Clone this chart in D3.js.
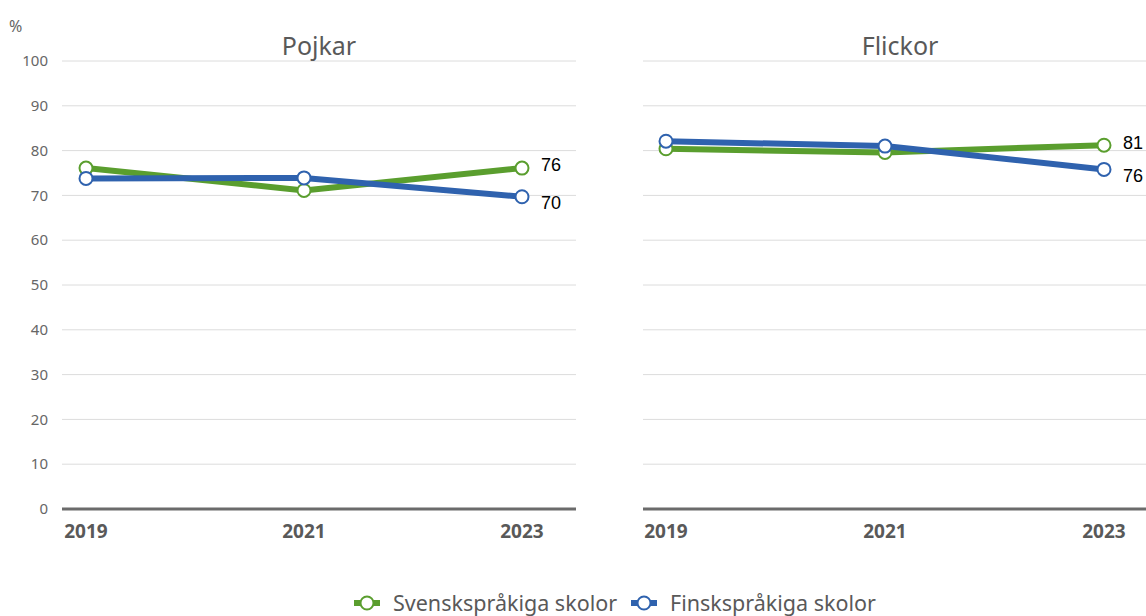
<!DOCTYPE html>
<html>
<head>
<meta charset="utf-8">
<script src="https://cdn.jsdelivr.net/npm/d3@7"></script>
<style>
  body { margin: 0; background: #fff; }
  svg { display: block; }
  .tick-label { font-family: "Noto Sans", sans-serif; fill: #666; font-size: 15px; }
  .year-label { font-family: "Noto Sans", sans-serif; fill: #595959; font-size: 19px; font-weight: bold; }
  .panel-title { font-family: "Noto Sans", sans-serif; fill: #595959; font-size: 25px; }
  .value-label { font-family: "Liberation Sans", Arial, sans-serif; fill: #000; font-size: 18px; }
  .legend-label { font-family: "Noto Sans", sans-serif; fill: #595959; font-size: 21.5px; }
</style>
</head>
<body>
<svg id="chart" width="1146" height="616"></svg>
<script>
// ========== DATA ==========
const years = ["2019", "2021", "2023"];
const panels = ["Pojkar", "Flickor"];
const seriesNames = ["Svenskspråkiga skolor", "Finskspråkiga skolor"];
const seriesColors = ["#5a9e2e", "#2f62ae"];

// values per panel, per series
const pojkarSvensk = [76.1, 71.1, 76.1];
const pojkarFinsk = [73.8, 73.9, 69.7];
const flickorSvensk = [80.4, 79.6, 81.2];
const flickorFinsk = [82.1, 81.0, 75.8];

const yTicks = [0, 10, 20, 30, 40, 50, 60, 70, 80, 90, 100];

const panelData = [
  { title: panels[0], series: [pojkarSvensk, pojkarFinsk], showY: true,
    gridX: [62, 576], pointX: [86, 522] },
  { title: panels[1], series: [flickorSvensk, flickorFinsk], showY: false,
    gridX: [643, 1146], pointX: [666, 1104] }
];

const svg = d3.select("#chart");
const y = d3.scaleLinear().domain([0, 100]).range([509, 61]);

// "%" unit label
svg.append("text")
  .attr("class", "tick-label")
  .attr("x", 9).attr("y", 32)
  .style("font-size", "16px")
  .text("%");

panelData.forEach(p => {
  const g = svg.append("g");
  const x = d3.scalePoint().domain(years).range(p.pointX);

  // gridlines
  g.selectAll(".grid")
    .data(yTicks.filter(t => t > 0))
    .join("line")
    .attr("x1", p.gridX[0]).attr("x2", p.gridX[1])
    .attr("y1", d => y(d)).attr("y2", d => y(d))
    .attr("stroke", "#dcdcdc").attr("stroke-width", 1);

  // baseline
  g.append("line")
    .attr("x1", p.gridX[0]).attr("x2", p.gridX[1])
    .attr("y1", y(0)).attr("y2", y(0))
    .attr("stroke", "#6b6b6b").attr("stroke-width", 3);

  if (p.showY) {
    g.selectAll(".ytick")
      .data(yTicks)
      .join("text")
      .attr("class", "tick-label")
      .attr("x", 48).attr("y", d => y(d))
      .attr("dy", "0.35em")
      .attr("text-anchor", "end")
      .text(d => d);
  }

  // year labels
  g.selectAll(".year")
    .data(years)
    .join("text")
    .attr("class", "year-label")
    .attr("x", d => x(d)).attr("y", 538)
    .attr("text-anchor", "middle")
    .text(d => d);

  // title
  g.append("text")
    .attr("class", "panel-title")
    .attr("x", (p.pointX[0] + p.pointX[1]) / 2 + 15)
    .attr("y", 55)
    .attr("text-anchor", "middle")
    .text(p.title);

  const line = d3.line().x((d, i) => x(years[i])).y(d => y(d));

  p.series.forEach((vals, si) => {
    g.append("path")
      .datum(vals)
      .attr("d", line)
      .attr("fill", "none")
      .attr("stroke", seriesColors[si])
      .attr("stroke-width", 6);
  });

  p.series.forEach((vals, si) => {
    g.selectAll(null)
      .data(vals)
      .join("circle")
      .attr("cx", (d, i) => x(years[i]))
      .attr("cy", d => y(d))
      .attr("r", 6.5)
      .attr("fill", "#fff")
      .attr("stroke", seriesColors[si])
      .attr("stroke-width", 2);
  });

  // end value labels: higher one above, lower one below
  const last = p.series.map(v => v[v.length - 1]);
  const hi = last[0] >= last[1] ? 0 : 1;
  p.series.forEach((vals, si) => {
    const v = vals[vals.length - 1];
    g.append("text")
      .attr("class", "value-label")
      .attr("x", x(years[years.length - 1]) + 19)
      .attr("y", y(v) + (si === hi ? -3 : 6))
      .attr("dy", "0.35em")
      .text(Math.round(v));
  });
});

// ========== LEGEND ==========
const legendItems = [
  { name: seriesNames[0], color: seriesColors[0], x: 367 },
  { name: seriesNames[1], color: seriesColors[1], x: 644 }
];
const lg = svg.append("g");
legendItems.forEach(item => {
  lg.append("line")
    .attr("x1", item.x - 13).attr("x2", item.x + 13)
    .attr("y1", 603).attr("y2", 603)
    .attr("stroke", item.color).attr("stroke-width", 6);
  lg.append("circle")
    .attr("cx", item.x).attr("cy", 603).attr("r", 6.5)
    .attr("fill", "#fff").attr("stroke", item.color).attr("stroke-width", 2);
  lg.append("text")
    .attr("class", "legend-label")
    .attr("x", item.x + 26).attr("y", 603)
    .attr("dy", "0.35em")
    .text(item.name);
});
</script>
</body>
</html>
